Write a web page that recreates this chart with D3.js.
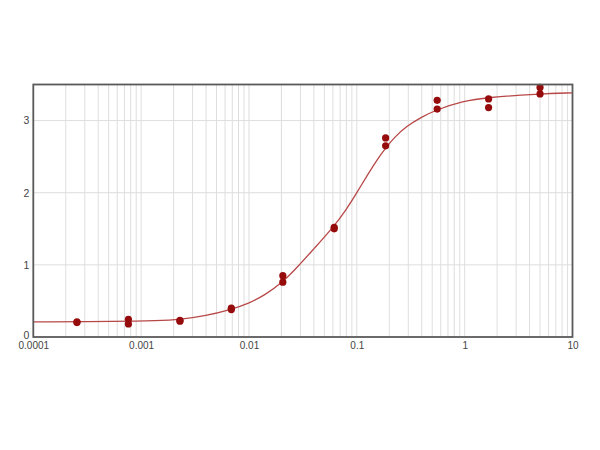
<!DOCTYPE html>
<html>
<head>
<meta charset="utf-8">
<script src="https://cdn.jsdelivr.net/npm/d3@7"></script>
<style>
  html, body { margin: 0; padding: 0; background: #fff; }
  svg { display: block; }
  text { font-family: Arial, "Liberation Sans", sans-serif; }
</style>
</head>
<body>
<svg id="chart" width="600" height="450"></svg>
<script>
// Concentrations (3-fold dilution series)
const concentrations = [0.000254, 0.000762, 0.00229, 0.00686, 0.0206, 0.0617, 0.185, 0.556, 1.667, 5];
// Replicate readings
const replicate1 = [0.20, 0.245, 0.22, 0.38, 0.85, 1.50, 2.76, 3.28, 3.30, 3.46];
const replicate2 = [0.21, 0.18, 0.23, 0.40, 0.76, 1.52, 2.65, 3.16, 3.18, 3.37];
// Fitted curve
const curveX = [0.0001, 0.00063, 0.0014, 0.0023, 0.004, 0.0066, 0.01, 0.0141, 0.02, 0.0282, 0.0398, 0.0603, 0.0794, 0.1, 0.126, 0.158, 0.185, 0.224, 0.288, 0.398, 0.55, 0.966, 1.585, 4.79, 10];
const curveY = [0.21, 0.215, 0.225, 0.24, 0.295, 0.375, 0.466, 0.585, 0.743, 0.97, 1.22, 1.52, 1.76, 2.0, 2.25, 2.48, 2.62, 2.77, 2.92, 3.05, 3.15, 3.27, 3.32, 3.37, 3.385];
// Axis ticks
const xTicks = [0.0001, 0.001, 0.01, 0.1, 1, 10];
const xTickLabels = ["0.0001", "0.001", "0.01", "0.1", "1", "10"];
const yTicks = [0, 1, 2, 3];

(function () {
const svg = d3.select("#chart");
const pLeft = 33.3, pRight = 572.5, pTop = 84.5, pBottom = 337;

const x = d3.scaleLog().domain([0.0001, 10]).range([pLeft, pRight]);
const y = d3.scaleLinear().domain([0, 3.5]).range([pBottom, pTop]);

// minor + major vertical gridlines
const vGrid = [];
for (let e = -4; e < 1; e++) {
  for (let m = 1; m <= 9; m++) vGrid.push(m * Math.pow(10, e));
}
vGrid.push(10);
svg.append("g").selectAll("line").data(vGrid).join("line")
  .attr("x1", d => x(d)).attr("x2", d => x(d))
  .attr("y1", pTop).attr("y2", pBottom)
  .attr("stroke", "#dedede").attr("stroke-width", 1);

svg.append("g").selectAll("line").data(yTicks.filter(d => d > 0)).join("line")
  .attr("x1", pLeft).attr("x2", pRight)
  .attr("y1", d => y(d)).attr("y2", d => y(d))
  .attr("stroke", "#dedede").attr("stroke-width", 1);

// fitted curve
const pts = curveX.map((cx, i) => [cx, curveY[i]]);
svg.append("path")
  .datum(pts)
  .attr("fill", "none")
  .attr("stroke", "#b84848")
  .attr("stroke-width", 1.3)
  .attr("d", d3.line().x(d => x(d[0])).y(d => y(d[1])).curve(d3.curveBasis));

// data points
const points = [];
concentrations.forEach((c, i) => {
  points.push([c, replicate1[i]]);
  points.push([c, replicate2[i]]);
});
svg.append("g").selectAll("circle").data(points).join("circle")
  .attr("cx", d => x(d[0])).attr("cy", d => y(d[1]))
  .attr("r", 3.6)
  .attr("fill", "#960c0c");

// frame
svg.append("rect")
  .attr("x", pLeft).attr("y", pTop)
  .attr("width", pRight - pLeft).attr("height", pBottom - pTop)
  .attr("fill", "none").attr("stroke", "#5a5a5a").attr("stroke-width", 1.8);

// axes labels
const xAxis = d3.axisBottom(x).tickValues(xTicks)
  .tickFormat((d, i) => xTickLabels[i]).tickSize(0).tickPadding(5);
const gx = svg.append("g").attr("transform", `translate(0,${pBottom})`).call(xAxis);
gx.select(".domain").remove();
gx.selectAll("text").attr("font-size", 10).attr("fill", "#444")
  .attr("font-family", "Arial, 'Liberation Sans', sans-serif");

const yAxis = d3.axisLeft(y).tickValues(yTicks).tickFormat(d3.format("d")).tickSize(0).tickPadding(4);
const gy = svg.append("g").attr("transform", `translate(${pLeft},0)`).call(yAxis);
gy.select(".domain").remove();
gy.selectAll("text").attr("font-size", 10.5).attr("fill", "#444")
  .attr("font-family", "Arial, 'Liberation Sans', sans-serif");
gy.selectAll(".tick").filter(d => d === 0).select("text").attr("dy", "0.1em");
})();
</script>
</body>
</html>
